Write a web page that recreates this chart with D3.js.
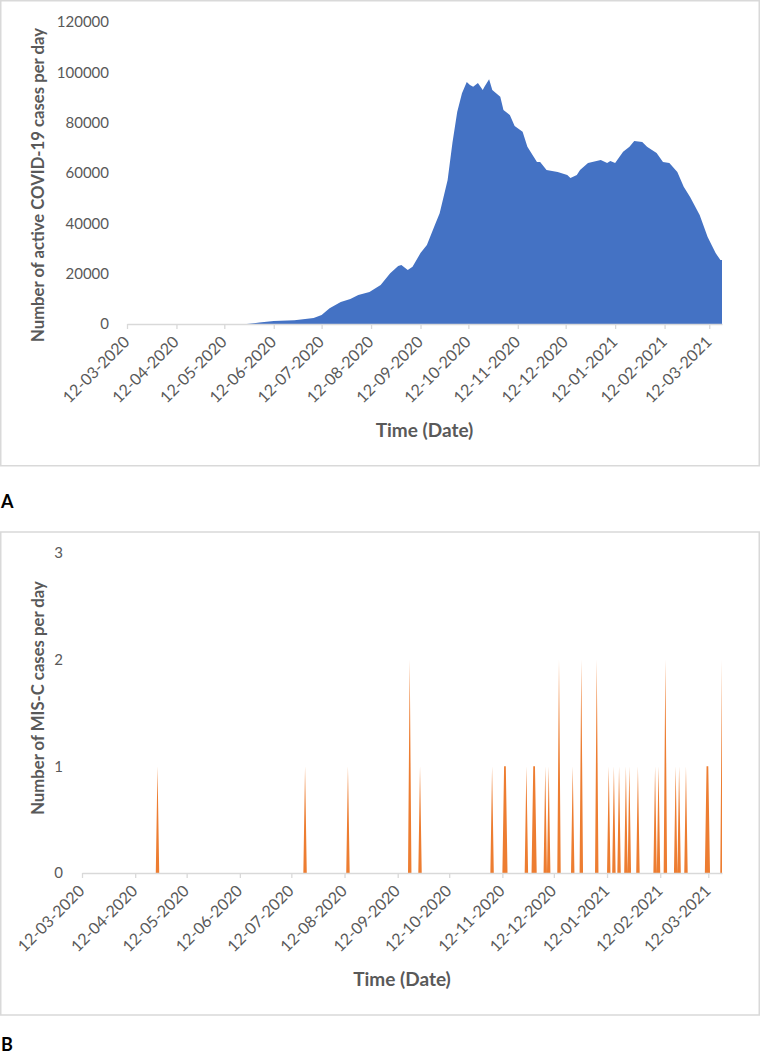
<!DOCTYPE html>
<html>
<head>
<meta charset="utf-8">
<script src="https://cdn.jsdelivr.net/npm/d3@7"></script>
<style>
  html, body { margin: 0; padding: 0; background: #fff; }
  svg { display: block; font-family: Lato, "Open Sans", sans-serif; }
</style>
</head>
<body>
<svg id="chart" width="762" height="1058"></svg>
<script>
// ---------- Data ----------
// Panel A: number of active COVID-19 cases per day
const covidDates = [
  "2020-03-12","2020-05-26","2020-06-03","2020-06-12","2020-06-25","2020-07-07",
  "2020-07-12","2020-07-17","2020-07-24","2020-07-30","2020-08-04","2020-08-11",
  "2020-08-18","2020-08-24","2020-08-29","2020-08-31","2020-09-04","2020-09-07",
  "2020-09-12","2020-09-16","2020-09-21","2020-09-24","2020-09-29","2020-10-02",
  "2020-10-05","2020-10-08","2020-10-11","2020-10-13","2020-10-15","2020-10-18",
  "2020-10-21","2020-10-22","2020-10-25","2020-10-27","2020-11-01","2020-11-03",
  "2020-11-07","2020-11-10","2020-11-15","2020-11-18","2020-11-24","2020-11-26",
  "2020-11-30","2020-12-07","2020-12-13","2020-12-15","2020-12-19","2020-12-21",
  "2020-12-26","2021-01-03","2021-01-07","2021-01-09","2021-01-12","2021-01-17",
  "2021-01-21","2021-01-24","2021-01-29","2021-02-01","2021-02-07","2021-02-11",
  "2021-02-15","2021-02-20","2021-02-24","2021-02-28","2021-03-06","2021-03-11",
  "2021-03-16","2021-03-19","2021-03-20"
];
const covidValues = [
  0, 0, 600, 1200, 1500, 2400,
  3600, 6300, 8700, 9900, 11500, 12700,
  15500, 20200, 23000, 23400, 21500, 22700,
  28200, 31400, 39300, 44000, 57200, 71900,
  84200, 91700, 96200, 95000, 94300, 95800,
  93000, 94200, 97300, 93000, 90300, 85000,
  83000, 78700, 76400, 70400, 64400, 64400,
  61200, 60400, 59200, 58000, 59200, 61200,
  64000, 65200, 64000, 64800, 64000, 68400,
  70400, 72700, 72300, 70400, 67900, 64400,
  64000, 60400, 54500, 50500, 43300, 34600,
  28200, 25400, 25400
];
const covidTicks = [0, 20000, 40000, 60000, 80000, 100000, 120000];

// Panel B: number of MIS-C cases per day (days not listed had 0 cases)
const miscDates = [
  "2020-04-25","2020-07-20","2020-08-14","2020-09-19","2020-09-25","2020-11-06",
  "2020-11-13","2020-11-14","2020-11-26","2020-11-30","2020-12-01","2020-12-07",
  "2020-12-09","2020-12-15","2020-12-23","2020-12-28","2021-01-06","2021-01-13",
  "2021-01-16","2021-01-19","2021-01-23","2021-01-25","2021-01-30","2021-02-09",
  "2021-02-11","2021-02-15","2021-02-21","2021-02-23","2021-02-27","2021-03-11",
  "2021-03-12","2021-03-20"
];
const miscValues = [
  1, 1, 1, 2, 1, 1,
  1, 1, 1, 1, 1, 1,
  1, 2, 1, 2, 2, 1,
  1, 1, 1, 1, 1, 1,
  1, 2, 1, 1, 1, 1,
  1, 2
];
const miscTicks = [0, 1, 2, 3];

const startDate = "2020-03-12";
const endDate = "2021-03-20";
const dateTickLabels = [
  "12-03-2020","12-04-2020","12-05-2020","12-06-2020","12-07-2020","12-08-2020",
  "12-09-2020","12-10-2020","12-11-2020","12-12-2020","12-01-2021","12-02-2021","12-03-2021"
];
const panelLabels = ["A", "B"];
const xTitle = "Time (Date)";
const yTitles = ["Number of active COVID-19 cases per day", "Number of MIS-C cases per day"];

// ---------- Drawing ----------
const parse = d3.timeParse("%Y-%m-%d");
const parseTick = d3.timeParse("%d-%m-%Y");
const fmtTick = d3.timeFormat("%d-%m-%Y");
const svg = d3.select("#chart");
const GRID = "#D9D9D9", TXT = "#595959";

const covidData = covidDates.map((d, i) => ({ date: parse(d), v: covidValues[i] }));

// daily series for MIS-C (zeros on days without cases)
const miscMap = new Map(miscDates.map((d, i) => [d, miscValues[i]]));
const fmtISO = d3.timeFormat("%Y-%m-%d");
const miscData = d3.timeDay.range(parse(startDate), d3.timeDay.offset(parse(endDate), 1))
  .map(d => ({ date: d, v: miscMap.get(fmtISO(d)) || 0 }));

const tickDates = dateTickLabels.map(parseTick);

function panel(cfg) {
  const g = svg.append("g");
  g.append("rect")
    .attr("x", cfg.box[0]).attr("y", cfg.box[1])
    .attr("width", cfg.box[2]).attr("height", cfg.box[3])
    .attr("fill", "#fff").attr("stroke", GRID).attr("stroke-width", 1.5);

  const x = d3.scaleTime().domain([parse(startDate), parse(endDate)]).range(cfg.xr);
  const y = d3.scaleLinear().domain(cfg.yd).range(cfg.yr);

  const area = d3.area()
    .x(d => x(d.date)).y0(y(0)).y1(d => y(d.v));
  g.append("path").datum(cfg.data)
    .attr("d", area).attr("fill", cfg.color);

  // y axis (labels only)
  const ya = g.append("g").attr("transform", `translate(${cfg.xr[0]},0)`)
    .call(d3.axisLeft(y).tickValues(cfg.yticks).tickSize(0).tickPadding(cfg.ypad).tickFormat(d3.format("d")));
  ya.select(".domain").remove();
  ya.selectAll("text").attr("fill", TXT).style("font-size", "15px").style("font-family", "Lato");

  // x axis
  const xa = g.append("g").attr("transform", `translate(0,${cfg.yr[0]})`)
    .call(d3.axisBottom(x).tickValues(tickDates).tickSize(5).tickSizeOuter(0).tickFormat(fmtTick));
  xa.select(".domain").attr("stroke", GRID).attr("stroke-width", 1.3);
  xa.selectAll(".tick line").attr("stroke", GRID).attr("stroke-width", 1.3);
  xa.selectAll("text")
    .attr("fill", TXT).style("font-size", "16px").style("font-family", "Lato")
    .attr("x", 0).attr("y", 0).attr("dy", "0.35em")
    .attr("text-anchor", "end")
    .attr("transform", "translate(-1,15) rotate(-45)");

  // axis titles
  g.append("text")
    .attr("x", (cfg.xr[0] + cfg.xr[1]) / 2).attr("y", cfg.yr[0] + 113)
    .attr("text-anchor", "middle").attr("fill", TXT)
    .style("font-size", "19px").style("font-weight", "bold")
    .text(xTitle);
  g.append("text")
    .attr("transform", `translate(${cfg.ytx},${cfg.yty}) rotate(-90)`)
    .attr("text-anchor", "middle").attr("dy", "0.35em").attr("fill", TXT)
    .style("font-size", "16.7px").style("font-weight", "bold")
    .text(cfg.ytitle);

  // panel letter
  g.append("text")
    .attr("x", 1).attr("y", cfg.letterY)
    .attr("fill", "#000").style("font-size", "18px").style("font-weight", "bold")
    .text(cfg.letter);
}

panel({
  box: [0.75, 0.75, 758.5, 465], xr: [127, 722], yr: [324, 22], yd: [0, 120000],
  yticks: covidTicks, ypad: 18, data: covidData, color: "#4472C4",
  ytitle: yTitles[0], ytx: 38, yty: 185, letter: panelLabels[0], letterY: 508
});
panel({
  box: [0.75, 532, 758.5, 483], xr: [82, 722], yr: [873, 553], yd: [0, 3],
  yticks: miscTicks, ypad: 19, data: miscData, color: "#ED7D31",
  ytitle: yTitles[1], ytx: 38, yty: 698, letter: panelLabels[1], letterY: 1051
});
</script>
</body>
</html>
